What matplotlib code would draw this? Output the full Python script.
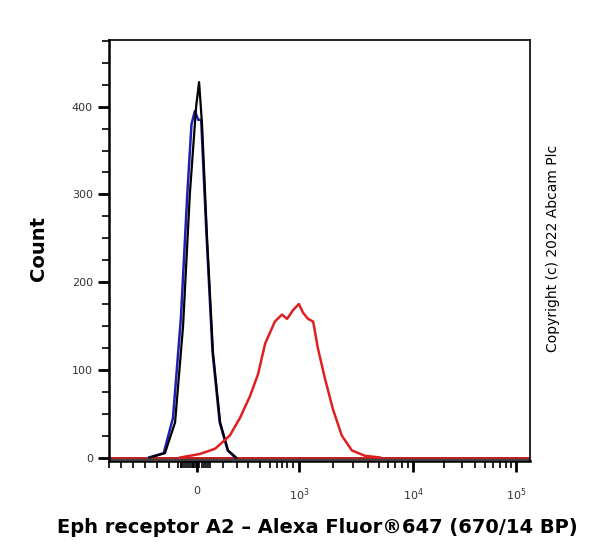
import numpy as np
import matplotlib
matplotlib.use("Agg", force=True)
import matplotlib.pyplot as plt

# x values are display channels (0-1000) of the biexponential axis
black_x = [97, 133, 157, 176, 192, 207, 214, 221, 233, 247, 264, 283, 302]
black_y = [0, 5, 40, 150, 300, 400, 428, 380, 250, 120, 40, 8, 0]
blue_x = [95, 130, 152, 171, 186, 196, 204, 212, 219, 231, 246, 263, 282, 300]
blue_y = [0, 5, 45, 160, 300, 380, 395, 385, 385, 260, 120, 40, 8, 0]
red_x = [169, 216, 252, 287, 311, 335, 354, 371, 394, 411, 423, 437, 451, 461,
         473, 485, 496, 513, 532, 553, 577, 608, 644]
red_y = [0, 4, 10, 25, 45, 70, 95, 130, 155, 163, 158, 168, 175, 165,
         158, 155, 125, 90, 55, 25, 8, 2, 0]

major_pos = [209, 451, 722, 967]
major_labels = ["0", "$10^3$", "$10^4$", "$10^5$"]

fig = plt.figure(figsize=(5.9, 5.58), dpi=100)
ax = fig.add_axes([0.1847, 0.1738, 0.7136, 0.7545])

ax.plot([0, 1000], [0, 0], color="#2a2a2a", lw=2)
ax.plot([0, 1000], [0, 0], color="#d42020", lw=1.2)
ax.plot(blue_x, blue_y, color="#1f1fb0", lw=1.8)
ax.plot(black_x, black_y, color="black", lw=1.6)
ax.plot(red_x, red_y, color="#e02020", lw=1.8)

ax.set_xlim(0, 1000)
ax.set_ylim(-4, 476)

# minor ticks
neg = list(np.arange(0, 200, 28.5))
near0 = list(np.linspace(165, 240, 16))
lin = [271, 304, 330, 358, 382, 399, 411, 423, 437]
logs = []
for d0, d1 in [(451, 722), (722, 967)]:
    for m in range(2, 10):
        logs.append(d0 + np.log10(m) * (d1 - d0))
ax.set_xticks(major_pos)
ax.set_xticklabels(major_labels, fontsize=8, color="#333333")
ax.set_xticks(neg + near0 + lin + logs, minor=True)
ax.tick_params(axis="x", which="major", length=8, width=2, pad=10)
ax.tick_params(axis="x", which="minor", length=5, width=1.2)

ax.set_yticks([0, 100, 200, 300, 400])
ax.set_yticklabels(["0", "100", "200", "300", "400"], fontsize=8, color="#333333")
ax.set_yticks(np.arange(25, 476, 25), minor=True)
ax.tick_params(axis="y", which="major", length=8, width=2)
ax.tick_params(axis="y", which="minor", length=5, width=1.2)

for s in ["left", "bottom"]:
    ax.spines[s].set_linewidth(1.8)
for s in ["top", "right"]:
    ax.spines[s].set_linewidth(1.2)

fig.text(0.065, 0.555, "Count", rotation=90, fontsize=14, fontweight="bold",
         ha="center", va="center")
fig.text(0.538, 0.055, "Eph receptor A2 \u2013 Alexa Fluor\u00ae647 (670/14 BP)",
         fontsize=14, fontweight="bold", ha="center", va="center")
fig.text(0.937, 0.555, "Copyright (c) 2022 Abcam Plc", rotation=90, fontsize=10,
         ha="center", va="center")

fig.savefig("out.png", dpi=100)
